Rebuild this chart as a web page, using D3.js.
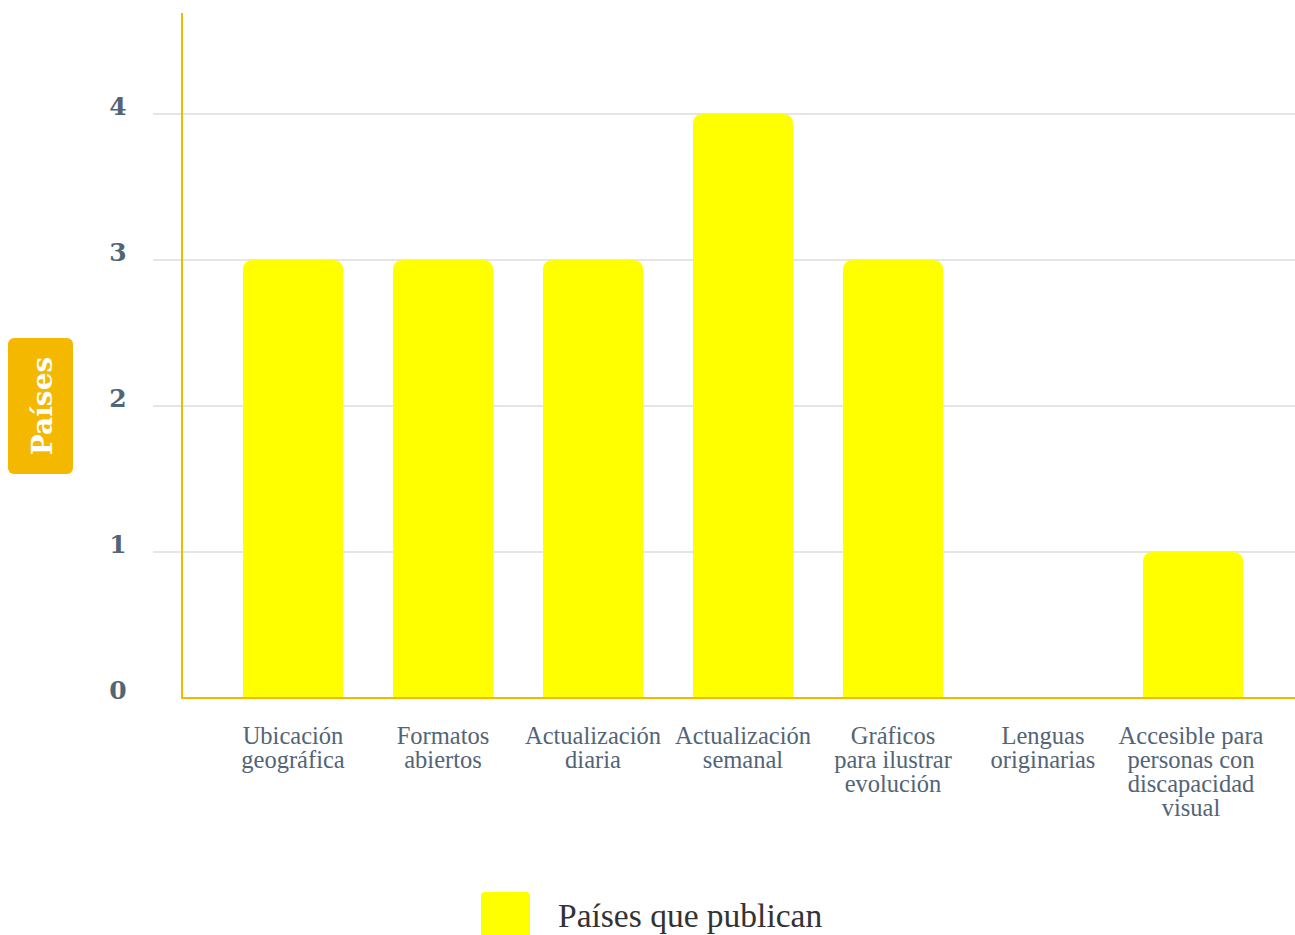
<!DOCTYPE html>
<html>
<head>
<meta charset="utf-8">
<script src="https://cdn.jsdelivr.net/npm/d3@7"></script>
<style>
  html, body { margin: 0; padding: 0; background: #fff; }
  svg { display: block; }
</style>
</head>
<body>
<svg id="chart" width="1295" height="935"></svg>
<script>
// categories and values
const categories = [
  ['Ubicación', 'geográfica'],
  ['Formatos', 'abiertos'],
  ['Actualización', 'diaria'],
  ['Actualización', 'semanal'],
  ['Gráficos', 'para ilustrar', 'evolución'],
  ['Lenguas', 'originarias'],
  ['Accesible para', 'personas con', 'discapacidad', 'visual']
];
const values = [3, 3, 3, 4, 3, 0, 1];
const yTicks = [0, 1, 2, 3, 4];
const seriesName = 'Países que publican';
const yTitle = 'Países';

const W = 1295, H = 935;
const axisX = 182, baseY = 698, topY = 13;
const svg = d3.select('#chart');

const keys = categories.map((c, i) => i);
const x = d3.scaleBand().domain(keys).range([218, 1268])
  .paddingInner(1 / 3).paddingOuter(1 / 6);
const y = d3.scaleLinear().domain([0, 4.692]).range([baseY, topY]);

// gridlines
svg.append('g').selectAll('line').data(yTicks.slice(1)).join('line')
  .attr('x1', 153).attr('x2', W)
  .attr('y1', d => y(d)).attr('y2', d => y(d))
  .attr('stroke', '#dcdcdc').attr('stroke-width', 1.5);

// tick labels
svg.append('g').selectAll('text').data(yTicks).join('text')
  .attr('x', 118).attr('y', d => y(d) + 1)
  .attr('text-anchor', 'middle')
  .attr('font-family', '"DejaVu Serif", serif').attr('font-weight', 'bold')
  .attr('font-size', 25).attr('fill', '#536476')
  .text(d => d);

// bars with rounded tops
const r = 10;
function barPath(i, v) {
  const x0 = x(i), x1 = x0 + x.bandwidth(), yt = y(v), yb = y(0);
  if (v <= 0) return null;
  return `M${x0},${yb}V${yt + r}Q${x0},${yt} ${x0 + r},${yt}H${x1 - r}Q${x1},${yt} ${x1},${yt + r}V${yb}Z`;
}
svg.append('g').selectAll('path').data(values).join('path')
  .attr('d', (v, i) => barPath(i, v))
  .attr('fill', '#ffff00');

// axes
svg.append('line').attr('x1', axisX).attr('x2', axisX).attr('y1', topY).attr('y2', baseY)
  .attr('stroke', '#f5b800').attr('stroke-width', 2);
svg.append('line').attr('x1', axisX - 1).attr('x2', W).attr('y1', baseY).attr('y2', baseY)
  .attr('stroke', '#f5b800').attr('stroke-width', 2);

// category labels
const lab = svg.append('g').selectAll('text').data(categories).join('text')
  .attr('text-anchor', 'middle')
  .attr('font-family', '"Liberation Serif", serif')
  .attr('font-size', 24.5).attr('fill', '#536476');
lab.each(function (lines, i) {
  d3.select(this).selectAll('tspan').data(lines).join('tspan')
    .attr('x', x(i) + x.bandwidth() / 2 - (i === 6 ? 2 : 0))
    .attr('y', (l, j) => 744 + j * 24)
    .text(l => l);
});

// y title badge
const bx = 8, by = 338, bw = 65, bh = 136;
svg.append('rect').attr('x', bx).attr('y', by).attr('width', bw).attr('height', bh)
  .attr('rx', 6).attr('fill', '#f5b800');
svg.append('text')
  .attr('transform', `translate(${bx + bw / 2 + 11},${by + bh / 2}) rotate(-90)`)
  .attr('text-anchor', 'middle')
  .attr('font-family', '"DejaVu Serif", serif').attr('font-weight', 'bold')
  .attr('font-size', 28).attr('fill', '#fff')
  .text(yTitle);

// legend
svg.append('rect').attr('x', 481).attr('y', 892).attr('width', 49).attr('height', 60)
  .attr('rx', 4).attr('fill', '#ffff00');
svg.append('text').attr('x', 558).attr('y', 927)
  .attr('font-family', '"Liberation Serif", serif')
  .attr('font-size', 33.5).attr('fill', '#333')
  .text(seriesName);
</script>
</body>
</html>
